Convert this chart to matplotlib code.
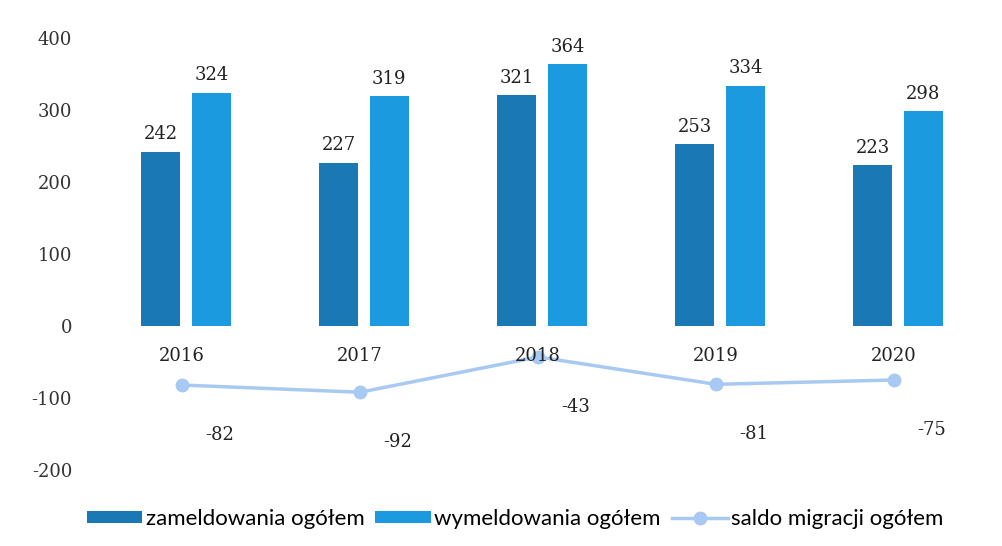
import numpy as np
import matplotlib.pyplot as plt

plt.rcParams['axes.unicode_minus'] = False

years = ['2016', '2017', '2018', '2019', '2020']
zameldowania = [242, 227, 321, 253, 223]
wymeldowania = [324, 319, 364, 334, 298]
saldo = [-82, -92, -43, -81, -75]

c_dark = '#1a78b4'
c_light = '#1c9ae0'
c_line = '#a8c9f2'
num_font = ['DejaVu Serif']

fig = plt.figure(figsize=(10.02, 5.46), dpi=100)
ax = fig.add_axes([93 / 1002, 1 - 470 / 546, 890 / 1002, 432 / 546])

x = np.arange(len(years))
w = 0.22
b1 = ax.bar(x - 0.12, zameldowania, w, color=c_dark, label='zameldowania ogółem')
b2 = ax.bar(x + 0.165, wymeldowania, w, color=c_light, label='wymeldowania ogółem')
ln, = ax.plot(x, saldo, color=c_line, lw=2.5, marker='o', ms=9, label='saldo migracji ogółem')

for bars, vals in ((b1, zameldowania), (b2, wymeldowania)):
    for r, v in zip(bars, vals):
        ax.annotate(str(v), (r.get_x() + r.get_width() / 2, v), xytext=(0, 6),
                    textcoords='offset points', ha='center', va='bottom',
                    fontsize=13, family=num_font, color='#222222')

for i, v in enumerate(saldo):
    ax.annotate(str(v), (i, v), xytext=(27, -36), textcoords='offset points',
                ha='center', va='center', fontsize=13, family=num_font, color='#222222')

for i, y in enumerate(years):
    ax.text(i, -42, y, ha='center', va='center', fontsize=13, family=num_font, color='#222222')

ax.set_xlim(-0.5, len(years) - 0.5)
ax.set_ylim(-200, 400)
ax.set_yticks(range(-200, 401, 100))
ax.set_xticks([])
ax.tick_params(axis='y', length=0, pad=15, labelsize=13, labelcolor='#333333')
for lab in ax.get_yticklabels():
    lab.set_family(num_font)
for s in ax.spines.values():
    s.set_visible(False)

fig.legend(handles=[b1, b2, ln], loc='center', bbox_to_anchor=(515 / 1002, 1 - 519 / 546),
           ncol=3, frameon=False, prop={'family': ['Lato', 'DejaVu Sans'], 'size': 16},
           handlelength=2.5, handleheight=0.5, handletextpad=0.15, columnspacing=0.5)

fig.savefig('out.png', dpi=100)
